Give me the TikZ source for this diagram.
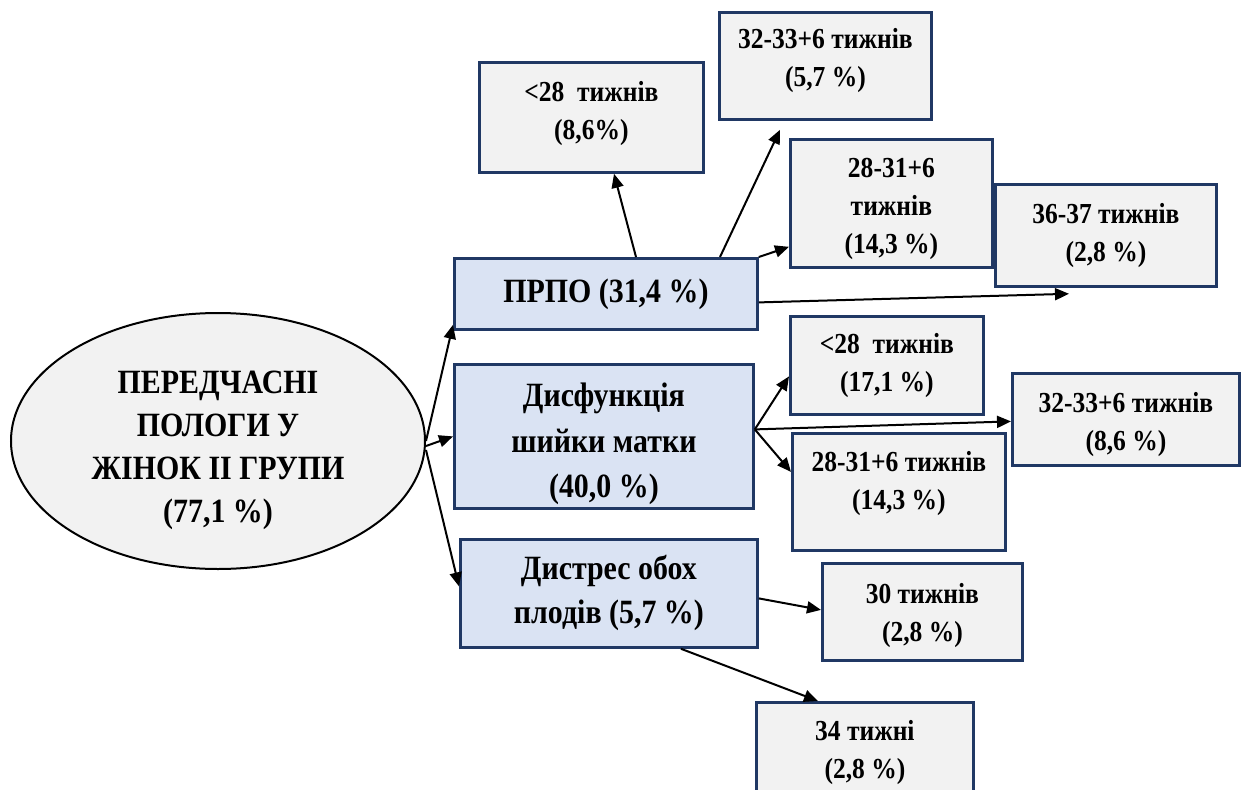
\documentclass[tikz,border=0pt]{standalone}
\usepackage{fontspec}
\setmainfont{Liberation Serif}[FakeStretch=0.88]
\usetikzlibrary{arrows.meta,shapes.geometric,calc}
\definecolor{boxline}{HTML}{203864}
\definecolor{mainfill}{HTML}{DAE3F3}
\definecolor{subfill}{HTML}{F2F2F2}
% invisible struts that nudge a node's text block down (\up) or up (\dn)
\newcommand\lift[1]{\rule[-#1]{0pt}{0pt}}
\newcommand\sink[1]{\rule{0pt}{#1}}
\begin{document}
\begin{tikzpicture}[x=1pt,y=-1pt,
  mainbox/.style={draw=boxline,line width=2.8pt,fill=mainfill,anchor=north west,
    inner sep=0pt,align=center,font=\bfseries\fontsize{34}{44}\selectfont},
  subbox/.style={draw=boxline,line width=2.8pt,fill=subfill,anchor=north west,
    inner sep=0pt,align=center,font=\bfseries\fontsize{29}{38}\selectfont},
  rootshape/.style={ellipse,draw=black,line width=2pt,fill=subfill,inner sep=0pt,
    align=center,font=\bfseries\fontsize{34}{43}\selectfont},
  link/.style={line width=2pt,-{Triangle[length=14pt,width=12pt]}}]
\useasboundingbox[fill=white] (0,0) rectangle (1243,790);

% central ellipse
\node[rootshape,minimum width=414pt,minimum height=256pt] (root) at (218,441)
  {\sink{40.5pt}ПЕРЕДЧАСНІ\\ПОЛОГИ У\\ЖІНОК ІІ ГРУПИ\\(77,1 \%)};

% three causes
\node[mainbox,minimum width=303pt,minimum height=71pt] (prpo) at (453,257)
  {ПРПО (31,4 \%)};
\node[mainbox,minimum width=299pt,minimum height=144pt,
  font=\bfseries\fontsize{34}{45.5}\selectfont] (dysf) at (453,363)
  {\sink{39pt}Дисфункція\\шийки матки\\(40,0 \%)};
\node[mainbox,minimum width=297pt,minimum height=108pt] (distress) at (459,538)
  {Дистрес обох\\плодів (5,7 \%)};

% outcomes after ПРПО
\node[subbox,minimum width=224pt,minimum height=110pt] (a1) at (478,61)
  {<28\ \ тижнів\\(8,6\%)\lift{14pt}};
\node[subbox,minimum width=212pt,minimum height=107pt] (a2) at (718,11)
  {32-33+6 тижнів\\(5,7 \%)\lift{16pt}};
\node[subbox,minimum width=202pt,minimum height=128pt] (a3) at (789,138)
  {\sink{29.6pt}28-31+6\\тижнів\\(14,3 \%)};
\node[subbox,minimum width=221pt,minimum height=102pt] (a4) at (994,183)
  {36-37 тижнів\\(2,8 \%)};

% outcomes after cervical dysfunction
\node[subbox,minimum width=193pt,minimum height=98pt] (b1) at (789,315)
  {<28\ \ тижнів\\(17,1 \%)};
\node[subbox,minimum width=227pt,minimum height=92pt] (b2) at (1011,372)
  {\sink{29.6pt}32-33+6 тижнів\\(8,6 \%)};
\node[subbox,minimum width=213pt,minimum height=117pt] (b3) at (791,432)
  {28-31+6 тижнів\\(14,3 \%)\lift{22pt}};

% outcomes after fetal distress
\node[subbox,minimum width=200pt,minimum height=97pt] (c1) at (821,562)
  {\sink{27.6pt}30 тижнів\\(2,8 \%)};
\node[subbox,minimum width=217pt,minimum height=100pt] (c2) at (755,701)
  {34 тижні\\(2,8 \%)};

% connectors
\draw[link] (root.east) -- ($(prpo.south west)+(0,-6)$);
\draw[link] ($(root.east)+(0,5)$) -- (dysf.west);
\draw[link] ($(root.east)+(0,9)$) -- ($(distress.west)+(0,-7)$);

\draw[link] ($(prpo.north west)+(183,0)$) -- ($(a1.south west)+(136,0)$);
\draw[link] ($(prpo.north west)+(267,0)$) -- ($(a2.south west)+(62,9)$);
\draw[link] (prpo.north east) -- ($(a3.south west)+(0,-22)$);
\draw[link] ($(prpo.east)+(0,8.5)$) -- ($(a4.south west)+(75,6)$);

\draw[link] ($(dysf.east)+(0,-7)$) -- ($(b1.west)+(0,11)$);
\draw[link] ($(dysf.east)+(0,-7)$) -- ($(b2.west)+(0,2)$);
\draw[link] ($(dysf.east)+(0,-7)$) -- ($(b3.west)+(0,-20)$);

\draw[link] ($(distress.east)+(0,5)$) -- ($(c1.west)+(0,-2)$);
\draw[link] ($(distress.south west)+(222,0)$) -- ($(c2.north west)+(63,0)$);
\end{tikzpicture}
\end{document}
